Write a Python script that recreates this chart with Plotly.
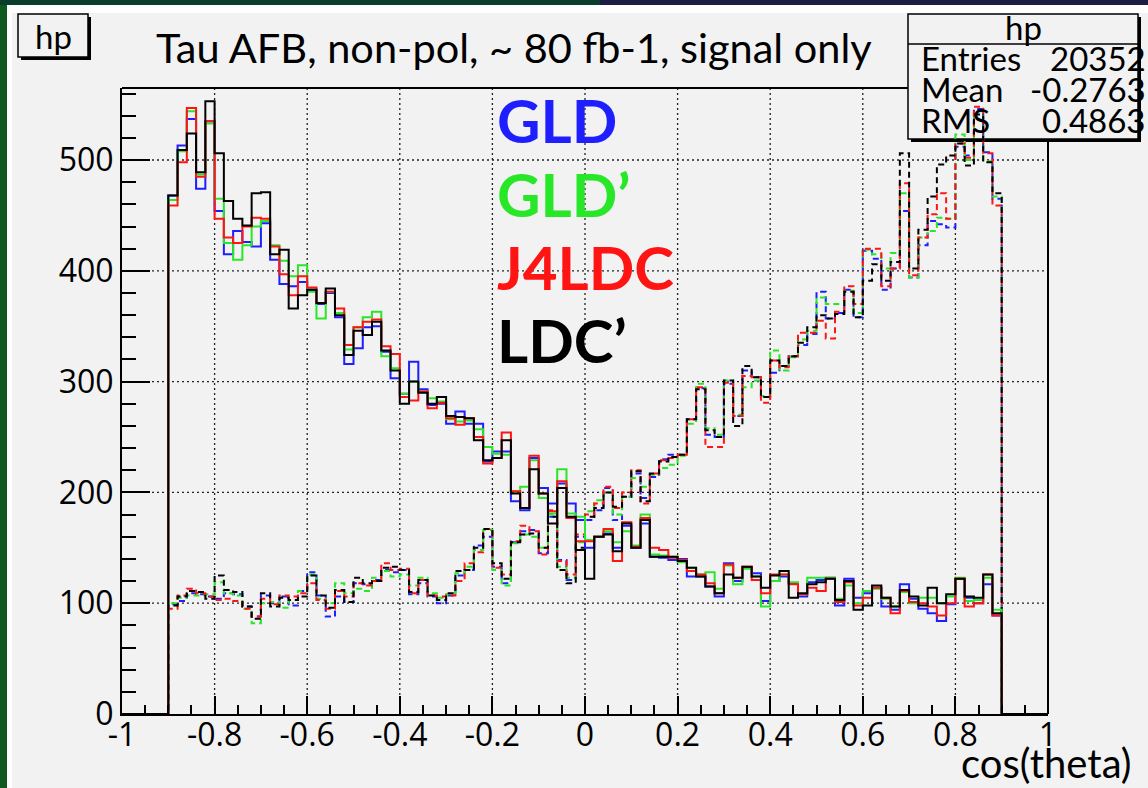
import plotly.graph_objects as go

# Binning: 100 bins over [-1, 1]; the outer 5 bins on each side are empty.
X_MIN, X_MAX, N_BINS = -1.0, 1.0, 100
EMPTY = [0] * 5

# Backward-peaked (solid) distributions, bins from -0.9 to 0.9
gld_solid = [
    468, 513, 537, 474, 535, 454, 415, 436, 426, 422,
    443, 410, 388, 386, 390, 383, 370, 380, 358, 316,
    330, 349, 350, 327, 303, 289, 318, 293, 279, 280,
    262, 273, 262, 262, 228, 237, 237, 192, 184, 231,
    204, 190, 208, 190, 175, 150, 160, 163, 150, 170,
    150, 172, 142, 141, 139, 140, 124, 124, 115, 106,
    136, 120, 132, 127, 102, 120, 124, 118, 106, 119,
    121, 123, 98, 122, 105, 109, 114, 97, 94, 117,
    104, 95, 91, 84, 99, 122, 105, 100, 117, 89,
]
gldp_solid = [
    464, 508, 544, 487, 533, 465, 425, 410, 423, 440,
    445, 423, 409, 395, 405, 381, 357, 381, 362, 329,
    349, 358, 363, 323, 312, 289, 300, 291, 285, 282,
    266, 264, 265, 257, 241, 235, 234, 201, 205, 229,
    195, 181, 221, 181, 178, 157, 160, 165, 155, 165,
    152, 180, 144, 143, 142, 137, 132, 126, 128, 113,
    134, 117, 131, 124, 97, 120, 126, 119, 108, 123,
    123, 123, 104, 116, 100, 111, 113, 104, 97, 110,
    100, 105, 105, 100, 106, 123, 102, 103, 123, 94,
]
j4ldc_solid = [
    459, 498, 547, 485, 535, 447, 430, 425, 440, 448,
    447, 422, 397, 378, 395, 385, 371, 381, 366, 333,
    349, 354, 356, 332, 325, 286, 283, 291, 276, 281,
    267, 261, 267, 250, 226, 231, 254, 201, 186, 233,
    199, 183, 210, 177, 156, 156, 160, 167, 138, 173,
    151, 177, 150, 148, 141, 139, 129, 126, 118, 109,
    135, 123, 133, 121, 109, 126, 126, 117, 108, 114,
    111, 122, 101, 119, 98, 105, 114, 105, 91, 111,
    101, 100, 97, 89, 100, 122, 97, 100, 126, 89,
]
ldcp_solid = [
    468, 509, 524, 489, 553, 506, 463, 447, 441, 470,
    471, 415, 419, 366, 378, 383, 371, 384, 360, 324,
    346, 342, 354, 328, 310, 280, 300, 290, 280, 286,
    269, 268, 267, 247, 229, 231, 247, 199, 186, 221,
    199, 172, 204, 178, 148, 122, 160, 162, 147, 172,
    150, 175, 142, 142, 142, 138, 132, 124, 115, 109,
    126, 123, 133, 124, 114, 125, 129, 105, 109, 117,
    119, 122, 103, 120, 94, 98, 116, 105, 97, 112,
    106, 98, 114, 100, 108, 122, 106, 105, 126, 91,
]

# Forward-peaked (dashed) distributions
gld_dash = [
    99, 102, 109, 108, 106, 104, 109, 108, 97, 88,
    107, 100, 106, 98, 111, 128, 107, 88, 106, 101,
    118, 117, 121, 130, 128, 130, 108, 118, 106, 100,
    107, 125, 130, 152, 160, 133, 118, 155, 165, 166,
    145, 178, 139, 121, 160, 175, 184, 204, 175, 196,
    217, 195, 214, 230, 234, 234, 266, 294, 252, 250,
    298, 269, 310, 304, 286, 308, 314, 323, 333, 343,
    381, 357, 362, 383, 358, 418, 411, 383, 402, 454,
    394, 423, 445, 442, 439, 512, 504, 546, 507, 465,
]
gldp_dash = [
    100, 105, 107, 107, 108, 119, 109, 107, 95, 82,
    100, 101, 96, 103, 111, 126, 104, 100, 118, 109,
    113, 111, 123, 129, 124, 126, 116, 123, 109, 105,
    108, 127, 133, 148, 166, 130, 116, 154, 162, 160,
    150, 180, 133, 123, 155, 183, 193, 200, 180, 196,
    213, 205, 216, 222, 225, 233, 262, 298, 258, 252,
    301, 270, 295, 301, 287, 328, 310, 322, 338, 346,
    376, 370, 370, 382, 362, 419, 415, 402, 416, 470,
    394, 430, 436, 448, 447, 523, 500, 544, 499, 467,
]
j4ldc_dash = [
    95, 107, 113, 109, 106, 103, 104, 102, 95, 88,
    104, 99, 107, 106, 109, 118, 103, 95, 111, 106,
    118, 116, 120, 136, 130, 131, 109, 121, 107, 106,
    107, 120, 136, 146, 167, 132, 126, 156, 170, 165,
    144, 184, 138, 126, 162, 180, 190, 205, 186, 200,
    220, 190, 217, 229, 231, 234, 266, 295, 241, 241,
    299, 269, 305, 304, 281, 319, 313, 323, 344, 344,
    355, 339, 363, 386, 370, 420, 420, 386, 402, 479,
    396, 430, 451, 470, 447, 515, 502, 548, 506, 459,
]
ldcp_dash = [
    98, 106, 111, 110, 104, 125, 112, 110, 97, 86,
    109, 97, 105, 103, 106, 125, 107, 96, 112, 101,
    123, 118, 120, 132, 133, 130, 110, 121, 107, 103,
    109, 129, 130, 150, 167, 136, 122, 155, 162, 163,
    150, 178, 130, 118, 150, 178, 186, 200, 187, 196,
    219, 192, 217, 228, 232, 234, 266, 293, 256, 250,
    301, 260, 314, 304, 286, 319, 314, 323, 335, 349,
    360, 357, 361, 381, 358, 391, 406, 391, 408, 506,
    402, 437, 467, 496, 504, 515, 495, 541, 498, 470,
]

detectors = ["GLD", "GLD\u2019", "J4LDC", "LDC\u2019"]
colors = ["rgb(30,30,255)", "rgb(40,230,40)", "rgb(255,20,20)", "rgb(0,0,0)"]
solid_sets = [gld_solid, gldp_solid, j4ldc_solid, ldcp_solid]
dash_sets = [gld_dash, gldp_dash, j4ldc_dash, ldcp_dash]

stats_labels = ["Entries", "Mean", "RMS"]
stats_values = ["20352", "-0.2763", "0.4863"]

x_ticks = [-1, -0.8, -0.6, -0.4, -0.2, 0, 0.2, 0.4, 0.6, 0.8, 1]
x_ticktext = ["-1", "-0.8", "-0.6", "-0.4", "-0.2", "0", "0.2", "0.4", "0.6", "0.8", "1"]
y_ticks = [0, 100, 200, 300, 400, 500]
Y_MAX = 565

# Figure geometry in pixels
W, H = 1148, 788
L, R, T, B = 122, 1048, 88, 714
FONT = "Lato"
NUM_FONT = "Open Sans"

edges = [X_MIN + (X_MAX - X_MIN) * i / N_BINS for i in range(N_BINS + 1)]


def px(x):
    return (x - L) / (R - L)


def py(y):
    return (B - y) / (B - T)


def step_trace(values, color, dash, name):
    full = EMPTY + list(values) + EMPTY
    return go.Scatter(
        x=edges, y=full + [full[-1]], mode="lines", line_shape="hv",
        line=dict(color=color, width=2, dash=dash), name=name,
        showlegend=False, hoverinfo="skip",
    )


fig = go.Figure()
for vals, col, name in zip(dash_sets, colors, detectors):
    fig.add_trace(step_trace(vals, col, "6px,4px", name + " forward"))
for vals, col, name in zip(solid_sets, colors, detectors):
    fig.add_trace(step_trace(vals, col, "solid", name))

shapes = []


def rect(x0, y0, x1, y1, fill, line_color=None, line_width=0):
    shapes.append(dict(
        type="rect", xref="paper", yref="paper", layer="below",
        x0=px(x0), x1=px(x1), y0=py(y1), y1=py(y0),
        fillcolor=fill, line=dict(color=line_color or fill, width=line_width),
    ))


def seg(x0, y0, x1, y1, color="black", width=2, dash="solid"):
    shapes.append(dict(
        type="line", xref="paper", yref="paper", layer="below",
        x0=px(x0), x1=px(x1), y0=py(y0), y1=py(y1),
        line=dict(color=color, width=width, dash=dash),
    ))


# Slide background around the canvas
rect(0, 0, 7, H, "#0e5a1e")
rect(0, 0, 600, 5, "#0b3d2c")
rect(600, 0, W, 5, "#1b1d44")
rect(7, 5, W, 13, "#ffffff")
rect(7, 5, 12, H, "#ffffff")

# Dotted grid at the major ticks
x_scale = (R - L) / (X_MAX - X_MIN)
y_scale = (B - T) / Y_MAX
for xv in x_ticks[1:-1]:
    xp = L + (xv - X_MIN) * x_scale
    seg(xp, T, xp, B, color="#222222", width=1.3, dash="2px,3px")
for yv in y_ticks[1:]:
    yp = B - yv * y_scale
    seg(L, yp, R, yp, color="#222222", width=1.3, dash="2px,3px")

# Top and right frame
seg(L, T, R, T)
seg(R, T, R, B)

# Statistics box
rect(911, 17, 1141, 142, "#000000")
rect(908, 14, 1138, 139, "#f2f2f2", "black", 1.5)
seg(908, 44, 1138, 44, width=1.5)

# Histogram name box
rect(21, 17, 91, 60, "#000000")
rect(18, 14, 88, 57, "#f2f2f2", "black", 1.5)

annotations = []


def text(x, y, s, size, color="black", xanchor="left", bold=False, family=FONT):
    annotations.append(dict(
        x=px(x), y=py(y), xref="paper", yref="paper", text=s, showarrow=False,
        xanchor=xanchor, yanchor="middle",
        font=dict(family=family, size=size, color=color, weight="bold" if bold else "normal"),
    ))


text(154, 47, "Tau AFB, non-pol, ~ 80 fb-1, signal only", 41.5)
text(53, 36, "hp", 33, xanchor="center")
text(1023, 27, "hp", 33, xanchor="center")
for i, (lab, val) in enumerate(zip(stats_labels, stats_values)):
    yc = 58 + 31 * i
    text(919, yc, lab, 33)
    text(1148, yc, val, 33, xanchor="right")

legend_y = [120, 194, 267, 340]
for name, col, yc in zip(detectors, colors, legend_y):
    text(495, yc, name, 60, color=col, bold=True)

text(1134, 763, "cos(theta)", 40, xanchor="right")

fig.update_layout(
    width=W, height=H,
    margin=dict(l=L, r=W - R, t=T, b=H - B, pad=0),
    paper_bgcolor="#f2f2f2",
    plot_bgcolor="rgba(0,0,0,0)",
    shapes=shapes,
    annotations=annotations,
    font=dict(family=FONT, color="black"),
    xaxis=dict(
        range=[X_MIN, X_MAX], showgrid=False, zeroline=False,
        showline=True, linecolor="black", linewidth=2,
        tickmode="array", tickvals=x_ticks, ticktext=x_ticktext,
        ticks="inside", ticklen=18, tickwidth=2, tickcolor="black",
        ticklabelstandoff=-8,
        minor=dict(dtick=0.05, tick0=-1, ticks="inside", ticklen=9,
                   tickwidth=2, tickcolor="black", showgrid=False),
        tickfont=dict(family=NUM_FONT, size=32, color="black"),
    ),
    yaxis=dict(
        range=[0, Y_MAX], showgrid=False, zeroline=False,
        showline=True, linecolor="black", linewidth=2,
        tickmode="array", tickvals=y_ticks,
        ticks="inside", ticklen=28, tickwidth=2, tickcolor="black",
        minor=dict(dtick=20, tick0=0, ticks="inside", ticklen=14,
                   tickwidth=2, tickcolor="black", showgrid=False),
        tickfont=dict(family=NUM_FONT, size=32, color="black"),
    ),
)

fig.write_html("out.html")
